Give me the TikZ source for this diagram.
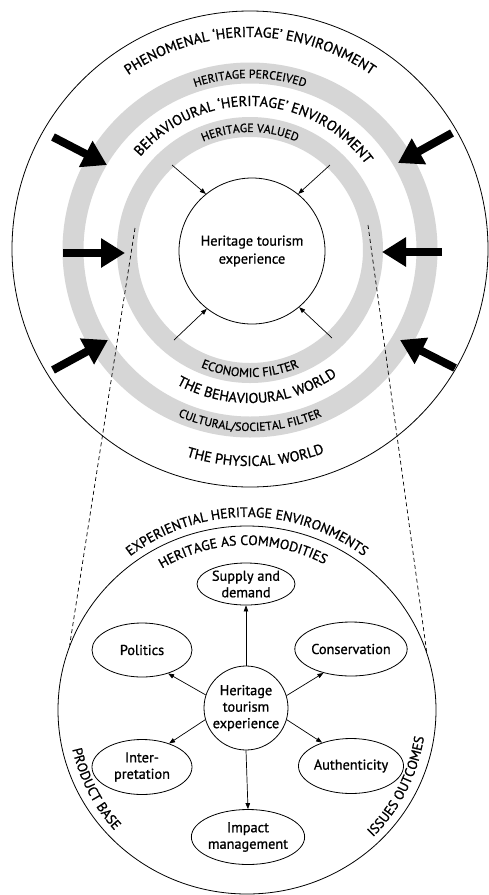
\documentclass[tikz,border=0pt]{standalone}
\usepackage{fontspec}
\setmainfont{PT Sans}[FakeBold=0.9]
\usetikzlibrary{arrows.meta,decorations.text,shapes.geometric}
\definecolor{ringgray}{gray}{0.84}
\newcommand\arcbig{\fontsize{14.3}{14.3}\selectfont}
\newcommand\arcsmall{\fontsize{11.8}{11.8}\selectfont}
\newcommand\arcmid{\fontsize{12.5}{12.5}\selectfont}
\newcommand\arclow{\fontsize{13.7}{13.7}\selectfont}
\newcommand\nodefont{\fontsize{14.3}{16.5}\selectfont}
\newcommand\corefont{\fontsize{14.3}{18}\selectfont}
\begin{document}
\begin{tikzpicture}[x=1pt,y=1pt,
  ring/.style={draw=ringgray, line width=21pt},
  bigarrow/.style={line width=8pt, -{Triangle[length=24pt,width=28pt]}},
  smallarrow/.style={line width=0.7pt, -{Triangle[length=6pt,width=4.5pt]}},
  ell/.style={ellipse, draw, line width=0.8pt, inner sep=0pt, align=center, font=\nodefont},
  dashline/.style={line width=0.7pt, dash pattern=on 4pt off 3pt},
]
\fill[white] (0,0) rectangle (488,-895);
\useasboundingbox (0,0) rectangle (488,-895);

% ---------- upper diagram ----------
\draw[ring] (250,-250) circle[radius=177pt];
\draw[ring, line width=20pt] (250,-250) circle[radius=123pt];
\node[circle, draw, line width=0.8pt, minimum size=476pt, inner sep=0pt] (outer) at (250,-249) {};
\node[circle, draw, line width=0.8pt, minimum size=146pt, inner sep=0pt, align=center, font=\corefont] (hte) at (252,-251) {Heritage tourism\\experience};

% small arrows toward the centre
\coordinate (s1) at (172,-165);
\coordinate (s2) at (330,-165);
\coordinate (s3) at (174,-340);
\coordinate (s4) at (332,-338);
\draw[smallarrow] (s1) -- (hte.129);
\draw[smallarrow] (s2) -- (hte.51);
\draw[smallarrow] (s3) -- (hte.232);
\draw[smallarrow] (s4) -- (hte.-50);

% big arrows
\coordinate (a1t) at (53,-137);  \coordinate (a1h) at (107,-165);
\coordinate (a2t) at (63,-253);  \coordinate (a2h) at (125,-253);
\coordinate (a3t) at (53,-370);  \coordinate (a3h) at (108,-340);
\coordinate (a4t) at (452,-133); \coordinate (a4h) at (398,-163);
\coordinate (a5t) at (442,-252); \coordinate (a5h) at (382,-252);
\coordinate (a6t) at (455,-368); \coordinate (a6h) at (400,-340);
\draw[bigarrow] (a1t) -- (a1h);
\draw[bigarrow] (a2t) -- (a2h);
\draw[bigarrow] (a3t) -- (a3h);
\draw[bigarrow] (a4t) -- (a4h);
\draw[bigarrow] (a5t) -- (a5h);
\draw[bigarrow] (a6t) -- (a6h);

% curved labels, top
\path[decorate, decoration={text along path, text align=center, text={|\arcbig|PHENOMENAL ‘HERITAGE’ ENVIRONMENT}}]
  (250,-250) ++(160:213pt) arc[start angle=160, end angle=20, radius=213pt];
\path[decorate, decoration={text along path, text align=center, text={|\arcsmall|HERITAGE PERCEIVED}}]
  (250,-250) ++(150:172pt) arc[start angle=150, end angle=30, radius=172pt];
\path[decorate, decoration={text along path, text align=center, text={|\arcbig|BEHAVIOURAL ‘HERITAGE’ ENVIRONMENT}}]
  (250,-250) ++(163:144pt) arc[start angle=163, end angle=13, radius=144pt];
\path[decorate, decoration={text along path, text align=center, text={|\arcsmall|HERITAGE VALUED}}]
  (250,-250) ++(150:118pt) arc[start angle=150, end angle=30, radius=118pt];
% curved labels, bottom
\path[decorate, decoration={text along path, text align=center, text={|\arcmid|ECONOMIC FILTER}}]
  (250,-250) ++(210:127pt) arc[start angle=210, end angle=330, radius=127pt];
\path[decorate, decoration={text along path, text align=center, text={|\arcbig|THE BEHAVIOURAL WORLD}}]
  (250,-250) ++(213:153pt) arc[start angle=213, end angle=333, radius=153pt];
\path[decorate, decoration={text along path, text align=center, text={|\arcsmall|CULTURAL/SOCIETAL FILTER}}]
  (250,-250) ++(210:181pt) arc[start angle=210, end angle=330, radius=181pt];
\path[decorate, decoration={text along path, text align=center, text={|\arcbig|THE PHYSICAL WORLD}}]
  (250,-250) ++(221.5:216pt) arc[start angle=221.5, end angle=321.5, radius=216pt];

% ---------- lower diagram ----------
\node[ellipse, draw, line width=0.8pt, minimum width=378pt, minimum height=368pt, inner sep=0pt] (lower) at (247,-710) {};

\coordinate (dl) at (135,-228);
\coordinate (dr) at (368,-225);
\draw[dashline] (dl) -- (lower.160);
\draw[dashline] (dr) -- (lower.18);

\node[circle, draw, line width=0.8pt, minimum size=84pt, inner sep=0pt, align=center, font=\nodefont] (core) at (246,-708) {Heritage\\tourism\\experience};
\node[ell, minimum width=98pt, minimum height=42pt] (sup) at (246,-584) {Supply and\\demand};
\node[ell, minimum width=100pt, minimum height=54pt] (pol) at (142,-650) {Politics};
\node[ell, minimum width=98pt, minimum height=54pt] (con) at (351,-649) {Conservation};
\node[ell, minimum width=100pt, minimum height=55pt] (int) at (142,-767) {Inter-\\pretation};
\node[ell, minimum width=97pt, minimum height=55pt] (aut) at (351,-766) {Authenticity};
\node[ell, minimum width=98pt, minimum height=55pt] (imp) at (248,-837) {Impact\\management};

\draw[smallarrow] (core.90) -- (sup.270);
\draw[smallarrow] (core.162) -- (pol.-42);
\draw[smallarrow] (core.196) -- (int.41);
\draw[smallarrow] (core.17) -- (con.221);
\draw[smallarrow] (core.-16) -- (aut.141);
\draw[smallarrow] (core.270) -- (imp.90);

\path[decorate, decoration={text along path, text align=center, text={|\arclow|EXPERIENTIAL HERITAGE ENVIRONMENTS}}]
  (247,-710) ++(165:193pt) arc[start angle=165, end angle=15, radius=193pt];
\path[decorate, decoration={text along path, text align=center, text={|\arclow|HERITAGE AS COMMODITIES}}]
  (247,-710) ++(161.5:165pt) arc[start angle=161.5, end angle=21.5, radius=165pt];
\path[decorate, decoration={text along path, text align=center, text={|\arclow|PRODUCT BASE}}]
  (247,-710) ++(170:179pt) arc[start angle=170, end angle=245, radius=179pt];
\path[decorate, decoration={text along path, text align=center, text={|\arclow|ISSUES OUTCOMES}}]
  (247,-710) ++(-65:179pt) arc[start angle=-65, end angle=11, radius=179pt];
\end{tikzpicture}
\end{document}
